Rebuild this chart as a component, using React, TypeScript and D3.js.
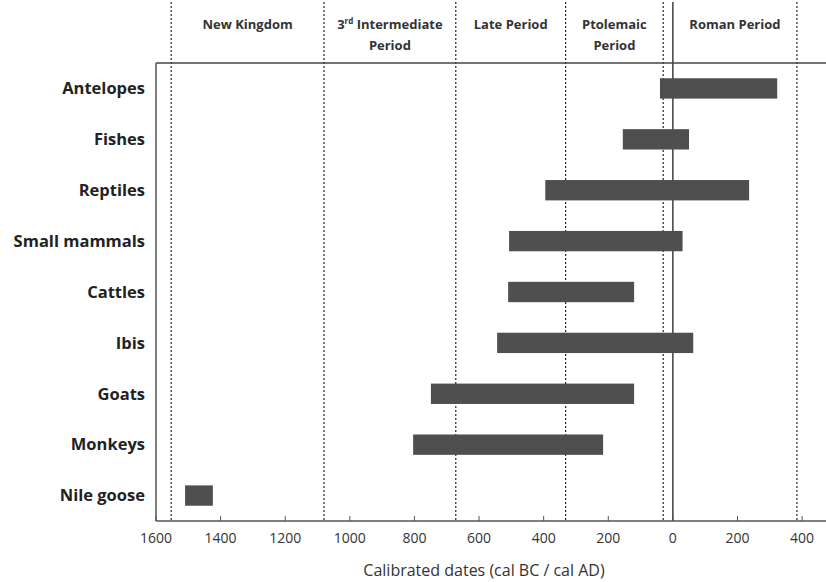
import React from 'react';
import * as d3 from 'd3';

// taxa, top to bottom
const taxa = ['Antelopes', 'Fishes', 'Reptiles', 'Small mammals', 'Cattles', 'Ibis', 'Goats', 'Monkeys', 'Nile goose'];
// calibrated ranges, negative = BC
const rangeStart = [-40, -155, -395, -507, -510, -544, -749, -804, -1510];
const rangeEnd = [323, 50, 236, 30, -120, 63, -120, -216, -1424];

// period boundaries (dashed) and the labels in the header
const boundaries = [-1553, -1080, -672, -332, -30, 384];
const periods = [
  { lines: ['New Kingdom'], from: -1553, to: -1080 },
  { lines: ['3rd Intermediate', 'Period'], from: -1080, to: -672 },
  { lines: ['Late Period'], from: -672, to: -332 },
  { lines: ['Ptolemaic', 'Period'], from: -332, to: -30 },
  { lines: ['Roman Period'], from: 0, to: 384 },
];
const tickValues = [-1600, -1400, -1200, -1000, -800, -600, -400, -200, 0, 200, 400];

const W = 826;
const H = 582;
const left = 156;
const top = 63;
const bottom = 521;

export default function App() {
  const x = d3.scaleLinear().domain([-1600, 474]).range([left, W]);
  const y = d3.scaleBand().domain(taxa).range([top, bottom]).paddingInner(0.6).paddingOuter(0.3);
  const font = 'Open Sans, sans-serif';

  return (
    <svg width={W} height={H} style={{ position: 'absolute', left: 0, top: 0 }} fontFamily={font}>
      {/* period boundaries */}
      {boundaries.map((b, i) => (
        <line key={i} x1={x(b)} x2={x(b)} y1={2} y2={bottom} stroke="#222" strokeWidth={1.2} strokeDasharray="2,2" />
      ))}
      <line x1={x(0)} x2={x(0)} y1={2} y2={bottom} stroke="#222" strokeWidth={1.3} />

      {/* header labels */}
      {periods.map((p, i) => {
        const cx = (x(p.from) + x(p.to)) / 2;
        return (
          <text key={i} x={cx} y={29} textAnchor="middle" fontSize={13} fontWeight="bold" fill="#333">
            {p.lines.map((l, j) => (
              <tspan key={j} x={cx} dy={j === 0 ? 0 : 21}>
                {l.startsWith('3rd') ? (
                  <>
                    3<tspan fontSize={8} dy={-5}>rd</tspan>
                    <tspan dy={5}> Intermediate</tspan>
                  </>
                ) : l}
              </tspan>
            ))}
          </text>
        );
      })}

      {/* frame */}
      <line x1={left} x2={W} y1={top} y2={top} stroke="#444" strokeWidth={1.5} />
      <line x1={left} x2={left} y1={top} y2={bottom} stroke="#555" strokeWidth={1.5} />
      <line x1={left} x2={W} y1={bottom} y2={bottom} stroke="#555" strokeWidth={1.5} />

      {/* bars */}
      {taxa.map((t, i) => (
        <rect key={t} x={x(rangeStart[i])} y={y(t)} width={x(rangeEnd[i]) - x(rangeStart[i])} height={y.bandwidth()} fill="#4f4f4f" />
      ))}

      {/* category labels */}
      {taxa.map((t) => (
        <text key={t} x={145} y={(y(t) as number) + y.bandwidth() / 2} dy="0.35em" textAnchor="end" fontSize={16.5} fontWeight="bold" fill="#222">
          {t}
        </text>
      ))}

      {/* x axis */}
      {tickValues.map((v) => (
        <g key={v}>
          <line x1={x(v)} x2={x(v)} y1={bottom} y2={bottom - 5} stroke="#555" />
          <text x={x(v)} y={bottom + 22} textAnchor="middle" fontSize={14} fill="#333">
            {Math.abs(v)}
          </text>
        </g>
      ))}
      <text x={484} y={576} textAnchor="middle" fontSize={16} fill="#333">
        Calibrated dates (cal BC / cal AD)
      </text>
    </svg>
  );
}
